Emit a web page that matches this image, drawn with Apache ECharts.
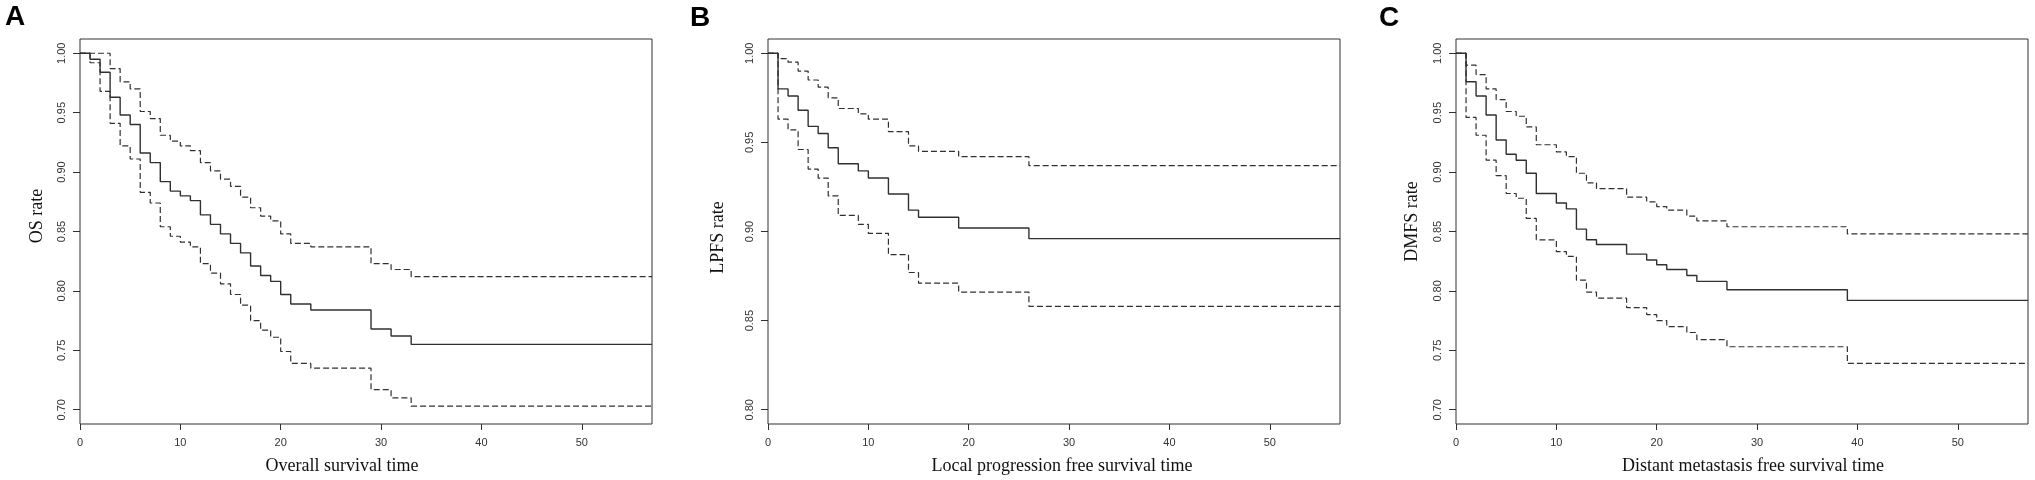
<!DOCTYPE html>
<html>
<head>
<meta charset="utf-8">
<script src="https://cdn.jsdelivr.net/npm/echarts@6/dist/echarts.min.js"></script>
<style>
  html, body { margin: 0; padding: 0; background: #fff; }
  #main { width: 2035px; height: 480px; }
</style>
</head>
<body>
<div id="main"></div>
<script>
// survival data
var timesA = [0, 1, 2, 3, 4, 5, 6, 7, 8, 9, 10, 11, 12, 13, 14, 15, 16, 17, 18, 19, 20, 21, 23, 29, 31, 33];
var osMid = [1.000, 0.995, 0.984, 0.963, 0.948, 0.940, 0.916, 0.908, 0.892, 0.884, 0.880, 0.876, 0.864, 0.856, 0.848, 0.840, 0.832, 0.821, 0.813, 0.808, 0.797, 0.789, 0.784, 0.768, 0.762, 0.755];
var osUpper = [1.000, 1.000, 1.000, 0.987, 0.976, 0.970, 0.951, 0.945, 0.931, 0.926, 0.922, 0.918, 0.908, 0.901, 0.894, 0.888, 0.879, 0.870, 0.863, 0.859, 0.848, 0.840, 0.837, 0.823, 0.818, 0.812];
var osLower = [1.000, 0.992, 0.968, 0.941, 0.922, 0.911, 0.883, 0.874, 0.854, 0.846, 0.841, 0.837, 0.823, 0.815, 0.806, 0.797, 0.788, 0.775, 0.767, 0.761, 0.749, 0.739, 0.735, 0.717, 0.710, 0.703];

var timesB = [0, 1, 2, 3, 4, 5, 6, 7, 9, 10, 12, 14, 15, 19, 26];
var lpfsMid = [1.000, 0.980, 0.976, 0.968, 0.959, 0.955, 0.947, 0.938, 0.934, 0.930, 0.921, 0.912, 0.908, 0.902, 0.896];
var lpfsUpper = [1.000, 0.997, 0.995, 0.990, 0.985, 0.981, 0.975, 0.969, 0.966, 0.963, 0.956, 0.948, 0.945, 0.942, 0.937];
var lpfsLower = [1.000, 0.963, 0.957, 0.946, 0.935, 0.930, 0.920, 0.909, 0.904, 0.899, 0.887, 0.877, 0.871, 0.866, 0.858];

var timesC = [0, 1, 2, 3, 4, 5, 6, 7, 8, 10, 11, 12, 13, 14, 17, 19, 20, 21, 23, 24, 27, 39];
var dmfsMid = [1.000, 0.976, 0.964, 0.948, 0.927, 0.915, 0.910, 0.899, 0.882, 0.874, 0.869, 0.852, 0.843, 0.839, 0.831, 0.826, 0.822, 0.818, 0.813, 0.808, 0.801, 0.792];
var dmfsUpper = [1.000, 0.990, 0.982, 0.970, 0.961, 0.951, 0.947, 0.938, 0.923, 0.917, 0.913, 0.899, 0.891, 0.886, 0.879, 0.875, 0.871, 0.868, 0.863, 0.859, 0.854, 0.848];
var dmfsLower = [1.000, 0.946, 0.931, 0.910, 0.897, 0.882, 0.878, 0.861, 0.843, 0.833, 0.829, 0.809, 0.799, 0.794, 0.786, 0.780, 0.775, 0.770, 0.765, 0.759, 0.753, 0.739];

var xTicks = [0, 10, 20, 30, 40, 50];
var yTicksA = [0.70, 0.75, 0.80, 0.85, 0.90, 0.95, 1.00];
var yTicksB = [0.80, 0.85, 0.90, 0.95, 1.00];
var yTicksC = [0.70, 0.75, 0.80, 0.85, 0.90, 0.95, 1.00];
var xEnd = 57;

var myChart = echarts.init(document.getElementById('main'));
var ink = '#303030';

function steps(times, vals) {
    var d = [];
    for (var i = 0; i < times.length; i++) d.push([times[i], vals[i]]);
    d.push([xEnd, vals[vals.length - 1]]);
    return d;
}

function curve(idx, times, vals, dashed) {
    return {
        type: 'line',
        xAxisIndex: idx,
        yAxisIndex: idx,
        step: 'end',
        symbol: 'none',
        silent: true,
        lineStyle: {color: ink, width: dashed ? 1.2 : 1.4, type: dashed ? [6, 3] : 'solid'},
        data: steps(times, vals)
    };
}

function xAx(idx, name, pad) {
    return {
        type: 'value', gridIndex: idx, min: 0, max: xEnd,
        name: name, nameLocation: 'middle', nameGap: 33,
        nameTextStyle: {fontFamily: 'Liberation Serif', fontSize: 18, color: '#111', padding: pad},
        axisLine: {show: false},
        axisTick: {show: true, length: 6, lineStyle: {color: ink}, customValues: xTicks},
        axisLabel: {fontFamily: 'Liberation Sans', fontSize: 11, color: '#333', margin: 13, customValues: xTicks},
        splitLine: {show: false}
    };
}

function yAx(idx, name, lo, hi, ticks, pad, gap) {
    return {
        type: 'value', gridIndex: idx, min: lo, max: hi,
        name: name, nameLocation: 'middle', nameGap: gap,
        nameTextStyle: {fontFamily: 'Liberation Serif', fontSize: 18, color: '#111', padding: pad},
        axisLine: {show: false},
        axisTick: {show: true, length: 7, lineStyle: {color: ink}, customValues: ticks},
        axisLabel: {
            fontFamily: 'Liberation Sans', fontSize: 11, color: '#333', margin: 13, rotate: 90,
            customValues: ticks,
            formatter: function (v) { return v.toFixed(2); }
        },
        splitLine: {show: false}
    };
}

var grid = {show: true, borderColor: ink, borderWidth: 1, top: 39, height: 388, width: 572};

option = {
    animation: false,
    backgroundColor: '#fff',
    title: [
        {text: 'A', left: 0, top: -2, textStyle: {fontFamily: 'Liberation Sans', fontWeight: 'bold', fontSize: 28, color: '#000'}},
        {text: 'B', left: 685, top: -1, textStyle: {fontFamily: 'Liberation Sans', fontWeight: 'bold', fontSize: 28, color: '#000'}},
        {text: 'C', left: 1374, top: -1, textStyle: {fontFamily: 'Liberation Sans', fontWeight: 'bold', fontSize: 28, color: '#000'}}
    ],
    grid: [
        Object.assign({}, grid, {left: 80}),
        Object.assign({}, grid, {left: 768}),
        Object.assign({}, grid, {left: 1456})
    ],
    xAxis: [
        xAx(0, 'Overall survival time', [0, 48, 0, 0]),
        xAx(1, 'Local progression free survival time', [0, 0, 0, 16]),
        xAx(2, 'Distant metastasis free survival time', [0, 0, 0, 22])
    ],
    yAxis: [
        yAx(0, 'OS rate', 0.688, 1.012, yTicksA, [0, 0, 0, 31], 34),
        yAx(1, 'LPFS rate', 0.792, 1.008, yTicksB, [0, 12, 0, 0], 41),
        yAx(2, 'DMFS rate', 0.688, 1.012, yTicksC, [0, 0, 0, 20], 35)
    ],
    series: [
        curve(0, timesA, osMid, false),
        curve(0, timesA, osUpper, true),
        curve(0, timesA, osLower, true),
        curve(1, timesB, lpfsMid, false),
        curve(1, timesB, lpfsUpper, true),
        curve(1, timesB, lpfsLower, true),
        curve(2, timesC, dmfsMid, false),
        curve(2, timesC, dmfsUpper, true),
        curve(2, timesC, dmfsLower, true)
    ]
};
myChart.setOption(option);
</script>
</body>
</html>
